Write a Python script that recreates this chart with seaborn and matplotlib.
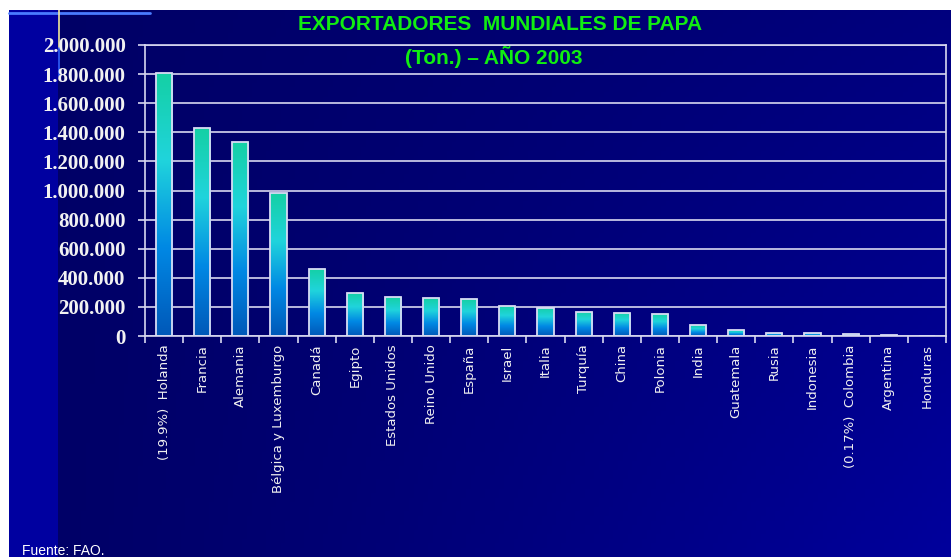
import numpy as np
import pandas as pd
import seaborn as sns
import matplotlib.pyplot as plt
from matplotlib.colors import LinearSegmentedColormap
from matplotlib.patches import Rectangle
from matplotlib.ticker import FuncFormatter, FixedLocator

paises = ['(19.9%)  Holanda', 'Francia', 'Alemania', 'Bélgica y Luxemburgo',
          'Canadá', 'Egipto', 'Estados Unidos', 'Reino Unido', 'España',
          'Israel', 'Italia', 'Turquía', 'China', 'Polonia', 'India',
          'Guatemala', 'Rusia', 'Indonesia', '(0.17%)  Colombia',
          'Argentina', 'Honduras']
toneladas = [1810000, 1432000, 1335000, 981000, 463000, 298000, 266000,
             259000, 254000, 208000, 195000, 167000, 160000, 151000,
             73000, 41000, 23000, 22000, 16000, 9000, 500]
y_ticks = [0, 200000, 400000, 600000, 800000, 1000000, 1200000, 1400000,
           1600000, 1800000, 2000000]

df = pd.DataFrame({'pais': paises, 'ton': toneladas})

sns.set_theme(style='white')
plt.rcParams['font.family'] = ['Liberation Sans', 'DejaVu Sans']

fig = plt.figure(figsize=(9.51, 5.57), dpi=100)
fig.patch.set_facecolor('white')

# background: navy, getting lighter towards the right / bottom
bg = fig.add_axes([0, 0, 1, 1 - 10 / 557], zorder=-10)
gx = np.linspace(0, 1, 200)[None, :]
gy = np.linspace(0, 1, 120)[:, None]
t = np.clip(gx ** 1.3 * (0.45 + 0.55 * gy), 0, 1)
bg_cmap = LinearSegmentedColormap.from_list('bg', ['#000066', '#00009c'])
bg.imshow(t, cmap=bg_cmap, aspect='auto', extent=[0, 1, 0, 1],
          origin='upper', vmin=0, vmax=1)
bg.add_patch(Rectangle((9 / 951, 0), 49 / 951, 1, color='#0000a0', lw=0))
bg.add_patch(Rectangle((0, 0), 9 / 951, 1, color='white', lw=0))
bg.plot([9 / 951, 150 / 951], [0.995, 0.995], color='#4a7cff', lw=2)
bg.plot([59 / 951, 59 / 951], [1, 0.93], color='#f0e8a0', lw=1.2)
bg.plot([59 / 951, 59 / 951], [0.93, 0.88], color='#3060ff', lw=1.2)
bg.set_xlim(0, 1)
bg.set_ylim(0, 1)
bg.axis('off')

ax = fig.add_axes([145 / 951, 1 - 336 / 557, 801 / 951, 291 / 557])
ax.set_facecolor('none')
sns.barplot(data=df, x='pais', y='ton', ax=ax, width=0.42,
            color='#10c0c0', edgecolor='#d8dcf4', linewidth=1.3, zorder=3)

# vertical gradient inside every bar
bar_cmap = LinearSegmentedColormap.from_list(
    'bar', ['#0058b8', '#0088e4', '#20d4dc', '#14d0a4'])
grad = np.linspace(0, 1, 256)[:, None]
for p in ax.patches:
    x0, h, w = p.get_x(), p.get_height(), p.get_width()
    if h <= 0:
        continue
    im = ax.imshow(grad, cmap=bar_cmap, origin='lower', aspect='auto',
                   extent=[x0, x0 + w, 0, h], zorder=2.5)
    im.set_clip_path(p)
    p.set_facecolor('none')

ax.set_xlim(-0.5, len(paises) - 0.5)
ax.set_ylim(0, 2000000)
ax.set_yticks(y_ticks)
ax.yaxis.set_major_formatter(
    FuncFormatter(lambda v, _: f'{int(v):,}'.replace(',', '.')))
ax.grid(axis='y', color='#d8d8f0', lw=1.2, zorder=0)
ax.set_axisbelow(True)
for s in ax.spines.values():
    s.set_color('#d8d8f0')
    s.set_linewidth(1.2)

ax.tick_params(axis='y', direction='out', length=5, width=1.2,
               color='#d8d8f0', left=True, pad=9)
for lab in ax.get_yticklabels():
    lab.set_family('Liberation Serif')
    lab.set_weight('bold')
    lab.set_fontsize(15)
    lab.set_color('#f2f2f2')

ax.xaxis.set_minor_locator(FixedLocator(np.arange(-0.5, len(paises), 1)))
ax.tick_params(axis='x', which='major', length=0, pad=6)
ax.tick_params(axis='x', which='minor', direction='out', length=5,
               width=1.2, color='#d8d8f0', bottom=True)
ax.set_xticks(range(len(paises)))
ax.set_xticklabels(paises, rotation=90, fontsize=9.5, color='#f0f0f0',
                   family='DejaVu Sans')
ax.set_xlabel('')
ax.set_ylabel('')

fig.text(500 / 951, 1 - 24 / 557, 'EXPORTADORES  MUNDIALES DE PAPA',
         ha='center', va='center', fontsize=15, fontweight='bold',
         color='#11ee11')
fig.text(494 / 951, 1 - 57 / 557, '(Ton.) – AÑO 2003', ha='center',
         va='center', fontsize=15, fontweight='bold', color='#11ee11')
fig.text(22 / 951, 1 - 551 / 557, 'Fuente: FAO.', ha='left', va='center',
         fontsize=10, color='white')

fig.savefig('out.png', dpi=100)
